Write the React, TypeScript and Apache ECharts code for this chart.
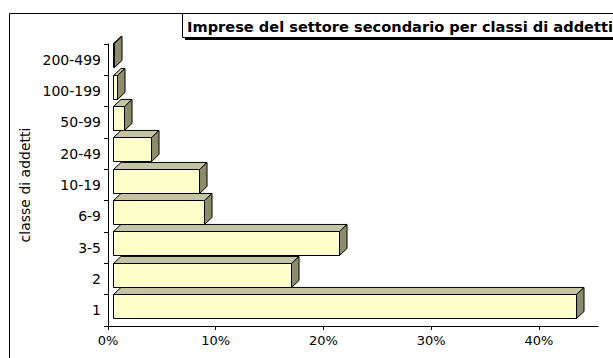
import React, { useEffect, useRef } from "react";
import * as echarts from "echarts";

const categories = ["1", "2", "3-5", "6-9", "10-19", "20-49", "50-99", "100-199", "200-499"];
const values = [43.0, 16.5, 21.0, 8.45, 8.0, 3.5, 1.0, 0.35, 0.1];
const xTicks = [0, 10, 20, 30, 40];
const titleText = "Imprese del settore secondario per classi di addetti";
const yAxisName = "classe di addetti";

const FONT = "DejaVu Sans, Verdana, sans-serif";

export default function App() {
  const ref = useRef<HTMLDivElement>(null);
  useEffect(() => {
    if (!ref.current) return;
    const chart = echarts.init(ref.current, undefined, { renderer: "svg" });
    const option: any = {
      animation: false,
      backgroundColor: "#ffffff",
      grid: { left: 108, right: 15, top: 44, bottom: 32, containLabel: false },
      xAxis: {
        type: "value",
        min: 0,
        max: 45.48,
        interval: 10,
        splitLine: { show: false },
        axisLine: { show: true, lineStyle: { color: "#000", width: 1 } },
        axisTick: { show: true, length: 4, customValues: xTicks, lineStyle: { color: "#000" } },
        axisLabel: {
          customValues: xTicks,
          formatter: (v: number) => `${v}%`,
          fontSize: 13,
          fontFamily: FONT,
          color: "#000",
          margin: 8,
        },
      },
      yAxis: {
        type: "category",
        data: categories,
        boundaryGap: true,
        name: yAxisName,
        nameLocation: "middle",
        nameRotate: 90,
        nameGap: 70,
        nameTextStyle: { fontSize: 14, fontFamily: FONT, color: "#000" },
        axisLine: { show: true, lineStyle: { color: "#000", width: 1 } },
        axisTick: { show: true, length: 4, lineStyle: { color: "#000" } },
        axisLabel: { fontSize: 14, fontFamily: FONT, color: "#000", margin: 7 },
        splitLine: { show: false },
      },
      series: [
        {
          type: "custom",
          data: values.map((v, i) => [v, i]),
          encode: { x: 0, y: 1 },
          renderItem: (params: any, api: any) => {
            const v = api.value(0);
            const i = api.value(1);
            const p0 = api.coord([0, i]);
            const p1 = api.coord([v, i]);
            const band = api.size([0, 1])[1];
            const cy = p0[1];
            const top = Math.round(cy - band * 0.525) + 0.5;
            const bottom = Math.round(cy + band * 0.243) + 0.5;
            const dx = band * 0.24;
            const dy = band * 0.225;
            const L = Math.round(p0[0] + 5) + 0.5;
            const R = Math.max(Math.round(p1[0] + 5) + 0.5, L + 0.5);
            const stroke = { stroke: "#000", lineWidth: 1 };
            return {
              type: "group",
              children: [
                {
                  type: "rect",
                  shape: { x: L, y: top, width: R - L, height: bottom - top },
                  style: { fill: "#FFFFCC", ...stroke },
                },
                {
                  type: "polygon",
                  shape: { points: [[L, top], [R, top], [R + dx, top - dy], [L + dx, top - dy]] },
                  style: { fill: "#C4C4A2", ...stroke },
                },
                {
                  type: "polygon",
                  shape: { points: [[R, top], [R + dx, top - dy], [R + dx, bottom - dy], [R, bottom]] },
                  style: { fill: "#8C8C6C", ...stroke },
                },
              ],
            };
          },
        },
      ],
      graphic: [
        {
          type: "rect",
          shape: { x: 9.5, y: 13.5, width: 700, height: 400 },
          style: { fill: "none", stroke: "#000", lineWidth: 1 },
          silent: true,
        },
        {
          type: "rect",
          shape: { x: 185, y: 16, width: 500, height: 24 },
          style: { fill: "#000" },
          silent: true,
        },
        {
          type: "rect",
          shape: { x: 182.5, y: 13.5, width: 500, height: 24 },
          style: { fill: "#fff", stroke: "#000", lineWidth: 1 },
          silent: true,
        },
        {
          type: "text",
          x: 187,
          y: 26,
          style: {
            text: titleText,
            fontSize: 14.6,
            fontWeight: "bold",
            fontFamily: FONT,
            fill: "#000",
            verticalAlign: "middle",
            align: "left",
          },
          silent: true,
        },
      ],
    };
    chart.setOption(option);
    return () => chart.dispose();
  }, []);
  return (
    <div
      ref={ref}
      style={{ position: "absolute", left: 0, top: 0, width: 613, height: 358, overflow: "hidden" }}
    />
  );
}
